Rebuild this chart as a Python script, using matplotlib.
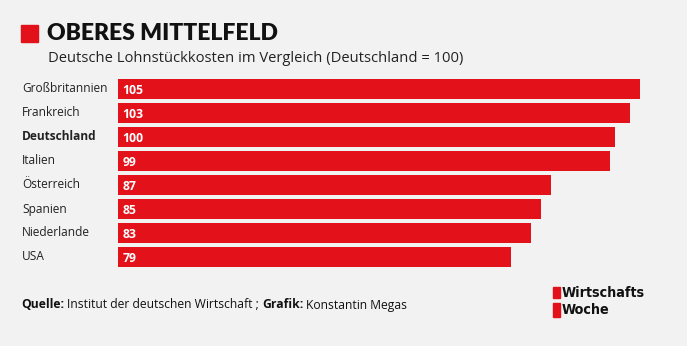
import matplotlib.pyplot as plt
import matplotlib.transforms as mtransforms
from matplotlib.patches import Rectangle

laender = ['Großbritannien', 'Frankreich', 'Deutschland', 'Italien',
           'Österreich', 'Spanien', 'Niederlande', 'USA']
werte = [105, 103, 100, 99, 87, 85, 83, 79]

ROT = '#e2111a'
HG = '#f2f2f2'
W, H = 687, 346

plt.rcParams['font.family'] = ['Open Sans', 'DejaVu Sans']

fig = plt.figure(figsize=(W / 100, H / 100), dpi=100, facecolor=HG)

# axes in pixel units: bars run from x=118, 105 ends at x=640
ax = fig.add_axes([118 / W, 1 - 267 / H, (640 - 118) / W, (267 - 79) / H])
ax.set_facecolor(HG)
hoehe = 20 / 24
y = list(range(len(werte)))
ax.barh(y, werte, height=hoehe, color=ROT)
ax.set_xlim(0, 105)
ax.set_ylim(len(werte) - 1 + hoehe / 2, -hoehe / 2)
ax.axis('off')

trans = mtransforms.blended_transform_factory(fig.transFigure, ax.transData)
for i, (land, wert) in enumerate(zip(laender, werte)):
    ax.text(22 / W, i, land, transform=trans, ha='left', va='center',
            fontsize=8.6, color='#222222',
            fontweight='bold' if land == 'Deutschland' else 'normal')
    ax.text(0.9, i + 0.06, str(wert), ha='left', va='center', fontsize=8.8,
            color='white', fontweight='bold')

# title block
fig.patches.append(Rectangle((21 / W, 1 - 42 / H), 17 / W, 17 / H,
                             transform=fig.transFigure, color=ROT))
fig.text(47 / W, 1 - 34 / H, 'OBERES MITTELFELD', fontsize=16.5,
         fontweight='heavy', va='center', ha='left', color='#111111',
         family=['Lato', 'DejaVu Sans'])
fig.text(48 / W, 1 - 59 / H,
         'Deutsche Lohnstückkosten im Vergleich (Deutschland = 100)',
         fontsize=10.6, va='center', ha='left', color='#222222')

# footer, pieces placed one after the other
renderer = fig.canvas.get_renderer()
x = 21
for teil, fett, luecke in [('Quelle:', True, 3),
                           ('Institut der deutschen Wirtschaft ;', False, 3),
                           ('Grafik:', True, 3),
                           ('Konstantin Megas', False, 0)]:
    t = fig.text(x / W, 1 - 305 / H, teil, fontsize=8.7,
                 fontweight='bold' if fett else 'normal', va='center',
                 ha='left', color='#111111')
    x += t.get_window_extent(renderer).width + luecke

# logo
for y0, y1 in [(287, 298), (303, 317)]:
    fig.patches.append(Rectangle((553 / W, 1 - y1 / H), 7 / W, (y1 - y0) / H,
                                 transform=fig.transFigure, color=ROT))
for zeile, yy in [('Wirtschafts', 293), ('Woche', 310)]:
    fig.text(562 / W, 1 - yy / H, zeile, fontsize=10.3, fontweight='bold',
             va='center', ha='left', color='#111111',
             family=['DejaVu Sans'], fontstretch='condensed')

fig.savefig('out.png', dpi=100, facecolor=HG)
